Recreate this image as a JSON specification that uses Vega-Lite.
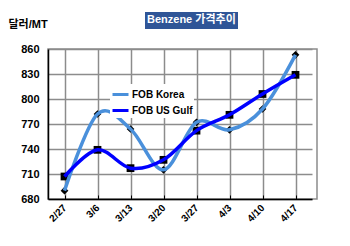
{
  "$schema": "https://vega.github.io/schema/vega-lite/v6.json",
  "width": 269,
  "height": 150,
  "autosize": "none",
  "padding": {"left": 48, "top": 49, "right": 33, "bottom": 47},
  "background": "white",
  "config": {
    "font": "Liberation Sans, Noto Sans CJK KR",
    "view": {"stroke": "#8c8c8c", "strokeWidth": 1.5}
  },
  "data": {
    "values": [
      {"date": "2/27", "series": "FOB Korea", "price": 690},
      {"date": "3/6", "series": "FOB Korea", "price": 782},
      {"date": "3/13", "series": "FOB Korea", "price": 764},
      {"date": "3/20", "series": "FOB Korea", "price": 715},
      {"date": "3/27", "series": "FOB Korea", "price": 772},
      {"date": "4/3", "series": "FOB Korea", "price": 763},
      {"date": "4/10", "series": "FOB Korea", "price": 788},
      {"date": "4/17", "series": "FOB Korea", "price": 853},
      {"date": "2/27", "series": "FOB US Gulf", "price": 707},
      {"date": "3/6", "series": "FOB US Gulf", "price": 739},
      {"date": "3/13", "series": "FOB US Gulf", "price": 717},
      {"date": "3/20", "series": "FOB US Gulf", "price": 727},
      {"date": "3/27", "series": "FOB US Gulf", "price": 762},
      {"date": "4/3", "series": "FOB US Gulf", "price": 781},
      {"date": "4/10", "series": "FOB US Gulf", "price": 806},
      {"date": "4/17", "series": "FOB US Gulf", "price": 829}
    ]
  },
  "encoding": {
    "x": {
      "field": "date",
      "type": "ordinal",
      "sort": null,
      "scale": {"type": "point", "range": [0, 264]},
      "axis": {
        "title": null,
        "labelAngle": -45,
        "labelAlign": "right",
        "labelBaseline": "middle",
        "labelFont": "Liberation Sans",
        "labelFontWeight": "bold",
        "labelFontSize": 10,
        "labelColor": "black",
        "labelPadding": 11,
        "domainColor": "black",
        "domainWidth": 1.5,
        "tickColor": "black",
        "tickSize": -4,
        "tickWidth": 1,
        "grid": true,
        "gridColor": "#8c8c8c",
        "gridWidth": 1.5
      }
    },
    "y": {
      "field": "price",
      "type": "quantitative",
      "scale": {"domain": [680, 860], "nice": false, "zero": false},
      "axis": {
        "values": [680, 710, 740, 770, 800, 830, 860],
        "title": "달러/MT",
        "titleAngle": 0,
        "titleAlign": "left",
        "titleBaseline": "middle",
        "titleX": -40,
        "titleY": -25,
        "titleFontSize": 11,
        "titleFontWeight": "bold",
        "titleColor": "black",
        "labelFont": "Liberation Sans",
        "labelFontWeight": "bold",
        "labelFontSize": 11,
        "labelColor": "black",
        "labelPadding": 9,
        "domainColor": "black",
        "domainWidth": 1.5,
        "ticks": false,
        "grid": true,
        "gridColor": "#8c8c8c",
        "gridWidth": 1.5
      }
    }
  },
  "layer": [
    {
      "mark": {"type": "point", "filled": true, "color": "black", "opacity": 1},
      "encoding": {
        "shape": {
          "field": "series",
          "type": "nominal",
          "scale": {"domain": ["FOB US Gulf", "FOB Korea"], "range": ["square", "diamond"]},
          "legend": {
            "title": "Benzene 가격추이",
            "orient": "none",
            "legendX": 97,
            "legendY": -37,
            "values": ["FOB Korea"],
            "fillColor": "#2F5597",
            "padding": 2,
            "titleColor": "white",
            "titleFontSize": 11,
            "titleFontWeight": "bold",
            "titlePadding": 0,
            "symbolSize": 1,
            "symbolOpacity": 0,
            "labelOpacity": 0,
            "labelFontSize": 1,
            "rowPadding": 0
          }
        },
        "size": {"value": 60}
      }
    },
    {
      "mark": {"type": "line", "interpolate": "cardinal", "tension": 0, "strokeWidth": 3.5},
      "encoding": {
        "color": {
          "field": "series",
          "type": "nominal",
          "scale": {"domain": ["FOB Korea", "FOB US Gulf"], "range": ["#4A90DB", "#0000FF"]},
          "legend": {
            "title": null,
            "orient": "none",
            "legendX": 62,
            "legendY": 35,
            "fillColor": "white",
            "padding": 1,
            "symbolType": "stroke",
            "symbolSize": 256,
            "symbolStrokeWidth": 3,
            "labelFontWeight": "bold",
            "labelFontSize": 10,
            "labelColor": "black",
            "labelOffset": 2,
            "rowPadding": 0
          }
        }
      }
    }
  ]
}
